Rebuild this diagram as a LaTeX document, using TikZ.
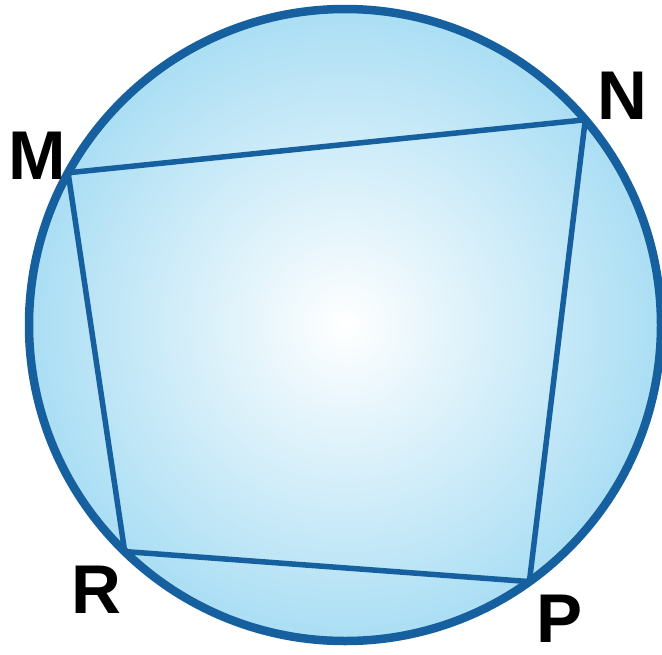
\documentclass[tikz,border=0pt]{standalone}
\usepackage{fontspec}
\setmainfont{Liberation Sans}
\usetikzlibrary{calc}
\definecolor{rimblue}{RGB}{22,96,160}
\definecolor{discblue}{RGB}{170,222,244}
\tikzset{
  disc/.style={draw=rimblue, line width=8.5pt, shading=radial,
               inner color=white, outer color=discblue},
  quadline/.style={draw=rimblue, line width=5.5pt, line join=round},
  vlabel/.style={font=\fontsize{69}{69}\selectfont\bfseries, text=black, inner sep=0pt},
}

\begin{document}
\begin{tikzpicture}[x=1pt, y=-1pt]
  \useasboundingbox (0,0) rectangle (662,654);
  \coordinate (O) at (345,325);
  % circle
  \path[disc] (O) circle[radius=316pt];
  % vertices on the circle
  \coordinate (M) at ($(O)+(151.2:316pt)$);
  \coordinate (N) at ($(O)+(40.5:316pt)$);
  \coordinate (P) at ($(O)+(-54.3:316pt)$);
  \coordinate (R) at ($(O)+(-134.2:316pt)$);
  \draw[quadline] (M) -- (N) -- (P) -- (R) -- cycle;
  % labels
  \node[vlabel] (labM) at (37,156) {M};
  \node[vlabel] (labN) at (622,96) {N};
  \node[vlabel] (labP) at (560,619) {P};
  \node[vlabel] (labR) at (96,590) {R};
\end{tikzpicture}
\end{document}
